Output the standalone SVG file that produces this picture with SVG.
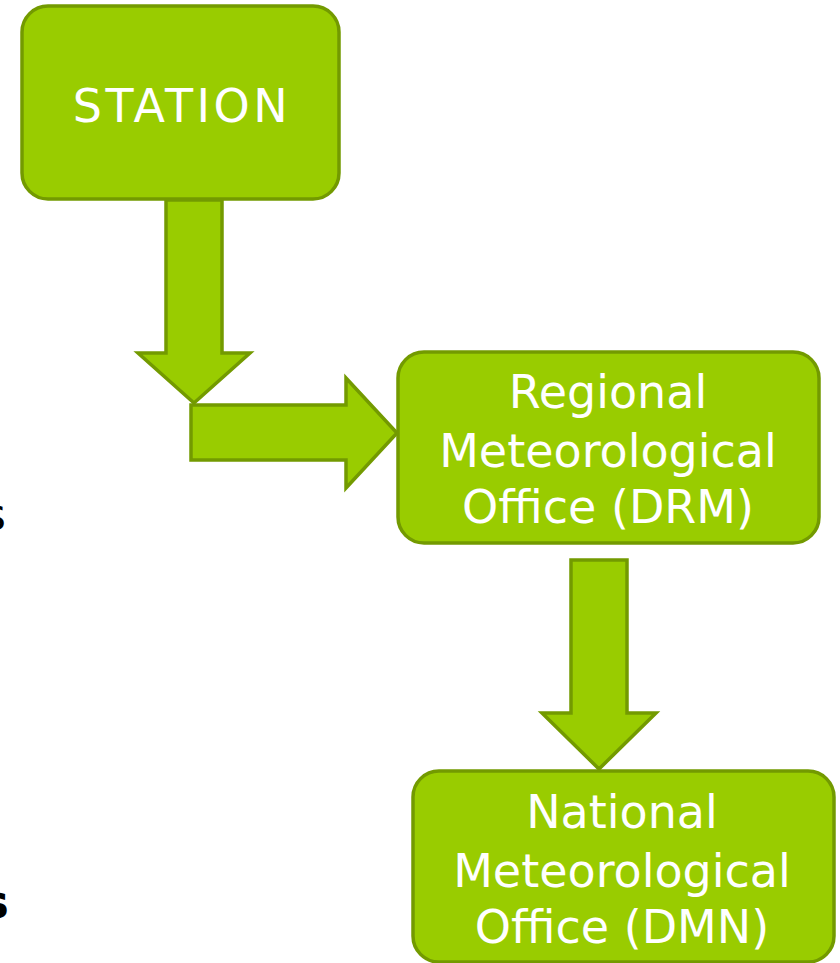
<svg xmlns="http://www.w3.org/2000/svg" width="840" height="963" viewBox="0 0 840 963">
<style>
.box{fill:#99CC00;stroke:#739A00;stroke-width:3.5}
.arr{fill:#99CC00;stroke:#739A00;stroke-width:3.5;stroke-linejoin:miter}
.lbl{font-family:"DejaVu Sans",Verdana,sans-serif;font-size:46px;fill:#FFFFFF;text-anchor:middle}
.edge{font-family:"DejaVu Sans",sans-serif;fill:#000000;text-anchor:end}
</style>
<rect width="840" height="963" fill="#FFFFFF"/>
<text class="edge" x="6" y="530" font-size="44">s</text>
<text class="edge" x="9" y="918" font-size="46" font-weight="bold">s</text>
<g id="connectors">
<path class="arr" d="M166,200 L222,200 L222,353 L250,353 L194,403 L138,353 L166,353 Z"/>
<path class="arr" d="M191,405 L346,405 L346,378 L397,433 L346,488 L346,460 L191,460 Z"/>
<path class="arr" d="M571,560 L627,560 L627,713 L656,713 L599,769 L542,713 L571,713 Z"/>
</g>
<g id="station">
<rect class="box" x="22" y="6" width="317" height="193" rx="26"/>
<text class="lbl" x="182" y="122" letter-spacing="3.5">STATION</text>
</g>
<g id="drm">
<rect class="box" x="398" y="352" width="421" height="191" rx="26"/>
<text class="lbl" x="608" y="408">Regional</text>
<text class="lbl" x="608" y="467">Meteorological</text>
<text class="lbl" x="608" y="523">Office (DRM)</text>
</g>
<g id="dmn">
<rect class="box" x="413" y="771" width="421" height="191" rx="26"/>
<text class="lbl" x="622" y="828">National</text>
<text class="lbl" x="622" y="887">Meteorological</text>
<text class="lbl" x="622" y="943">Office (DMN)</text>
</g>
</svg>
